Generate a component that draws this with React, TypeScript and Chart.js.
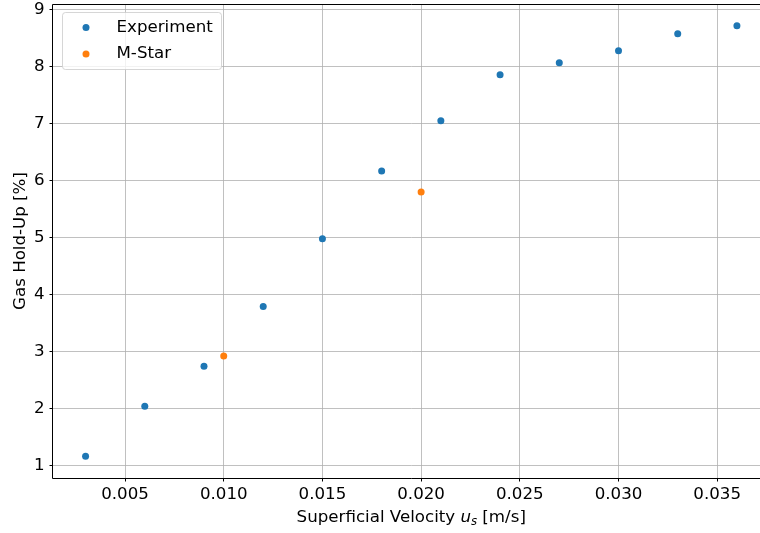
import { useEffect, useRef } from "react";
import { Chart, registerables } from "chart.js";

Chart.register(...registerables);

// ---- data ----
const expVelocity = [0.003, 0.006, 0.009, 0.012, 0.015, 0.018, 0.021, 0.024, 0.027, 0.03, 0.033, 0.036];
const expHoldUp = [1.16, 2.04, 2.74, 3.79, 4.98, 6.17, 7.05, 7.86, 8.07, 8.28, 8.58, 8.72];
const mstarVelocity = [0.01, 0.02];
const mstarHoldUp = [2.92, 5.8];
const xTicks = [0.005, 0.01, 0.015, 0.02, 0.025, 0.03, 0.035];
const yTicks = [1, 2, 3, 4, 5, 6, 7, 8, 9];
const seriesLabels = ["Experiment", "M-Star"];
const seriesColors = ["#1f77b4", "#ff7f0e"];
const yTitle = "Gas Hold-Up [%]";
const xTitleParts = [
  { text: "Superficial Velocity ", style: "normal", sub: false },
  { text: "u", style: "italic", sub: false },
  { text: "s", style: "italic", sub: true },
  { text: " [m/s]", style: "normal", sub: false },
];

const FAMILY = "'DejaVu Sans', sans-serif";
const FS = 16.67;

const decorPlugin = {
  id: "decor",
  afterDraw(chart: any) {
    const { ctx, chartArea: a } = chart;
    ctx.save();
    // spines
    ctx.strokeStyle = "#000";
    ctx.lineWidth = 1;
    ctx.beginPath();
    ctx.moveTo(a.left - 0.5, a.bottom + 0.5);
    ctx.lineTo(a.left - 0.5, a.top + 0.5);
    ctx.lineTo(a.right + 0.5, a.top + 0.5);
    ctx.lineTo(a.right + 0.5, a.bottom + 0.5);
    ctx.closePath();
    ctx.stroke();

    // x title with math-like u_s
    const fontFor = (p: any) =>
      `${p.style === "italic" ? "italic " : ""}${p.sub ? FS * 0.7 : FS}px ${FAMILY}`;
    let total = 0;
    for (const p of xTitleParts) {
      ctx.font = fontFor(p);
      total += ctx.measureText(p.text).width;
    }
    let x = (a.left + a.right) / 2 - total / 2;
    const baseY = 522;
    ctx.fillStyle = "#000";
    ctx.textBaseline = "alphabetic";
    ctx.textAlign = "left";
    for (const p of xTitleParts) {
      ctx.font = fontFor(p);
      ctx.fillText(p.text, x, baseY + (p.sub ? 3 : 0));
      x += ctx.measureText(p.text).width;
    }

    // legend
    const bx = a.left + 9.5;
    const by = a.top + 8.5;
    const bw = 159;
    const bh = 57;
    const r = 3;
    ctx.beginPath();
    ctx.moveTo(bx + r, by);
    ctx.lineTo(bx + bw - r, by);
    ctx.arcTo(bx + bw, by, bx + bw, by + r, r);
    ctx.lineTo(bx + bw, by + bh - r);
    ctx.arcTo(bx + bw, by + bh, bx + bw - r, by + bh, r);
    ctx.lineTo(bx + r, by + bh);
    ctx.arcTo(bx, by + bh, bx, by + bh - r, r);
    ctx.lineTo(bx, by + r);
    ctx.arcTo(bx, by, bx + r, by, r);
    ctx.closePath();
    ctx.fillStyle = "rgba(255,255,255,0.8)";
    ctx.fill();
    ctx.strokeStyle = "rgba(204,204,204,0.8)";
    ctx.lineWidth = 1;
    ctx.stroke();

    ctx.font = `${FS}px ${FAMILY}`;
    ctx.textBaseline = "middle";
    chart.data.datasets.forEach((ds: any, i: number) => {
      const cy = by + 15 + i * 26.6;
      ctx.fillStyle = ds.backgroundColor;
      ctx.beginPath();
      ctx.arc(bx + 23.5, cy, 3.5, 0, Math.PI * 2);
      ctx.fill();
      ctx.fillStyle = "#000";
      ctx.fillText(ds.label, bx + 54, cy);
    });
    ctx.restore();
  },
};

export default function App() {
  const ref = useRef<HTMLCanvasElement | null>(null);
  useEffect(() => {
    if (!ref.current) return;
    const chart = new Chart(ref.current, {
      type: "scatter",
      data: {
        datasets: [
          {
            label: seriesLabels[0],
            data: expVelocity.map((v, i) => ({ x: v, y: expHoldUp[i] })),
            backgroundColor: seriesColors[0],
            borderWidth: 0,
            pointRadius: 3.5,
          },
          {
            label: seriesLabels[1],
            data: mstarVelocity.map((v, i) => ({ x: v, y: mstarHoldUp[i] })),
            backgroundColor: seriesColors[1],
            borderWidth: 0,
            pointRadius: 3.5,
          },
        ],
      },
      options: {
        responsive: false,
        animation: false,
        devicePixelRatio: 1,
        layout: { padding: { left: 0, top: 3, right: 10.5, bottom: 0 } },
        plugins: { legend: { display: false }, tooltip: { enabled: false } },
        scales: {
          x: {
            type: "linear",
            min: 0.00135,
            max: 0.03765,
            afterBuildTicks: (s: any) => {
              s.ticks = xTicks.map((v) => ({ value: v }));
            },
            afterFit: (s: any) => {
              s.height = 55;
              s.paddingLeft = 0;
              s.paddingRight = 0;
            },
            ticks: {
              font: { family: FAMILY, size: FS },
              color: "#000",
              padding: 3.5,
              maxRotation: 0,
              autoSkip: false,
              callback: (v: any) => Number(v).toFixed(3),
            },
            grid: {
              color: "#b0b0b0",
              lineWidth: 0.8,
              tickLength: 3.5,
              tickColor: "#000",
              tickWidth: 1,
            },
            border: { display: false },
          },
          y: {
            type: "linear",
            min: 0.78,
            max: 9.1,
            afterBuildTicks: (s: any) => {
              s.ticks = yTicks.map((v) => ({ value: v }));
            },
            afterFit: (s: any) => {
              s.width = 53;
              s.paddingTop = 0;
              s.paddingBottom = 0;
            },
            ticks: {
              font: { family: FAMILY, size: FS },
              color: "#000",
              padding: 5,
              autoSkip: false,
              callback: (v: any) => String(v),
            },
            grid: {
              color: "#b0b0b0",
              lineWidth: 0.8,
              tickLength: 3.5,
              tickColor: "#000",
              tickWidth: 1,
            },
            border: { display: false },
            title: {
              display: true,
              text: yTitle,
              color: "#000",
              font: { family: FAMILY, size: FS },
              padding: { top: 10.5, bottom: 0 },
            },
          },
        },
      },
      plugins: [decorPlugin],
    } as any);
    return () => chart.destroy();
  }, []);

  return (
    <div
      style={{
        position: "absolute",
        left: 0,
        top: 0,
        width: 760,
        height: 533,
        overflow: "hidden",
        background: "#fff",
      }}
    >
      <canvas ref={ref} width={780} height={533} style={{ width: 780, height: 533, display: "block" }} />
    </div>
  );
}
